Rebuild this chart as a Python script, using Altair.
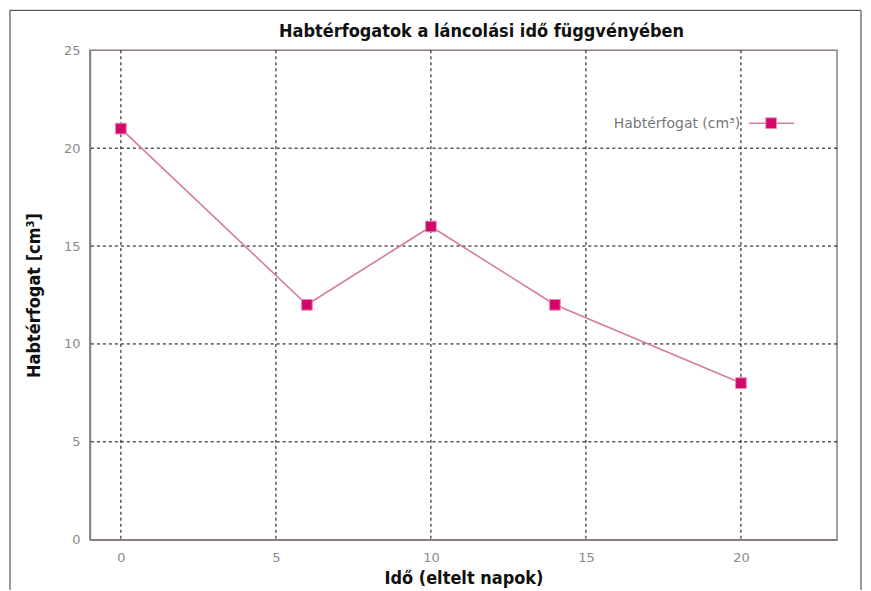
import altair as alt
import pandas as pd

# Data
days = [0, 6, 10, 14, 20]
volumes = [21, 12, 16, 12, 8]
x_ticks = [0, 5, 10, 15, 20]
y_ticks = [0, 5, 10, 15, 20, 25]
y_grid = [5, 10, 15, 20]
series_name = "Habtérfogat (cm³)"
chart_title = "Habtérfogatok a láncolási idő függvényében"

TITLE_FONT = "DejaVu Sans Condensed, Liberation Sans Narrow, Roboto Condensed, sans-serif"
LABEL_FONT = "DejaVu Sans, Liberation Sans, sans-serif"
LINE_COLOR = "#d47c9a"
MARK_COLOR = "#d4086c"

df = pd.DataFrame({"day": days, "vol": volumes})
gx = pd.DataFrame({"gx": x_ticks})
gy = pd.DataFrame({"gy": y_grid})
one = pd.DataFrame({"a": [0]})

xscale = alt.Scale(domain=[-1, 23.1], nice=False, zero=False)
yscale = alt.Scale(domain=[0, 25], nice=False)

xaxis = alt.Axis(
    values=x_ticks, title="Idő (eltelt napok)", grid=False, ticks=False,
    labelPadding=12, titlePadding=5,
)
yaxis = alt.Axis(
    values=y_ticks, title="Habtérfogat [cm³]", grid=False, ticks=False,
    labelPadding=10, titlePadding=20,
)

grid_x = alt.Chart(gx).mark_rule(color="black", strokeDash=[3, 3], strokeWidth=1).encode(
    x=alt.X("gx:Q", scale=xscale, axis=xaxis)
)
grid_y = alt.Chart(gy).mark_rule(color="black", strokeDash=[3, 3], strokeWidth=1).encode(
    y=alt.Y("gy:Q", scale=yscale, axis=yaxis)
)

line = alt.Chart(df).mark_line(color=LINE_COLOR, strokeWidth=1.6).encode(
    x=alt.X("day:Q", scale=xscale, axis=xaxis),
    y=alt.Y("vol:Q", scale=yscale, axis=yaxis),
)
points = alt.Chart(df).mark_square(
    size=115, fill=MARK_COLOR, stroke="#e98bb5", strokeWidth=1, opacity=1
).encode(
    x=alt.X("day:Q", scale=xscale, axis=xaxis),
    y=alt.Y("vol:Q", scale=yscale, axis=yaxis),
)

# manual legend (label on the left of the symbol)
leg_rule = alt.Chart(one).mark_rule(color=LINE_COLOR, strokeWidth=1.6).encode(
    x=alt.value(660), x2=alt.value(705), y=alt.value(73)
)
leg_sq = alt.Chart(one).mark_square(size=115, fill=MARK_COLOR, stroke="#e98bb5", strokeWidth=1, opacity=1).encode(
    x=alt.value(682), y=alt.value(73)
)
leg_txt = alt.Chart(one).mark_text(
    text=series_name, align="right", baseline="middle", fontSize=14,
    font=LABEL_FONT, color="#777777",
).encode(x=alt.value(651), y=alt.value(74))

title_txt = alt.Chart(one).mark_text(
    text=chart_title, align="center", baseline="middle", fontSize=18,
    font=TITLE_FONT, fontWeight="bold", color="#111111",
).encode(x=alt.value(392), y=alt.value(-18))

frame = alt.Chart(one).mark_rect(fillOpacity=0, stroke="#333333", strokeWidth=1).encode(
    x=alt.value(-80), x2=alt.value(772), y=alt.value(-40), y2=alt.value(620)
)

chart = alt.layer(
    frame, grid_x, grid_y, line, points, leg_rule, leg_sq, leg_txt, title_txt
).properties(
    width=748,
    height=490,
    autosize="none",
    padding={"left": 82, "top": 42, "right": 26, "bottom": 50},
).configure_view(
    stroke="#8b7b82", strokeWidth=1.5
).configure_axis(
    domainColor="#8b7b82", domainWidth=1.5,
    labelFont=LABEL_FONT, labelFontSize=13, labelColor="#8a8a8a",
    titleFont=TITLE_FONT, titleFontSize=18, titleFontWeight="bold", titleColor="#111111",
)

chart.save("out.html", embed_options={"renderer": "svg", "actions": False})
